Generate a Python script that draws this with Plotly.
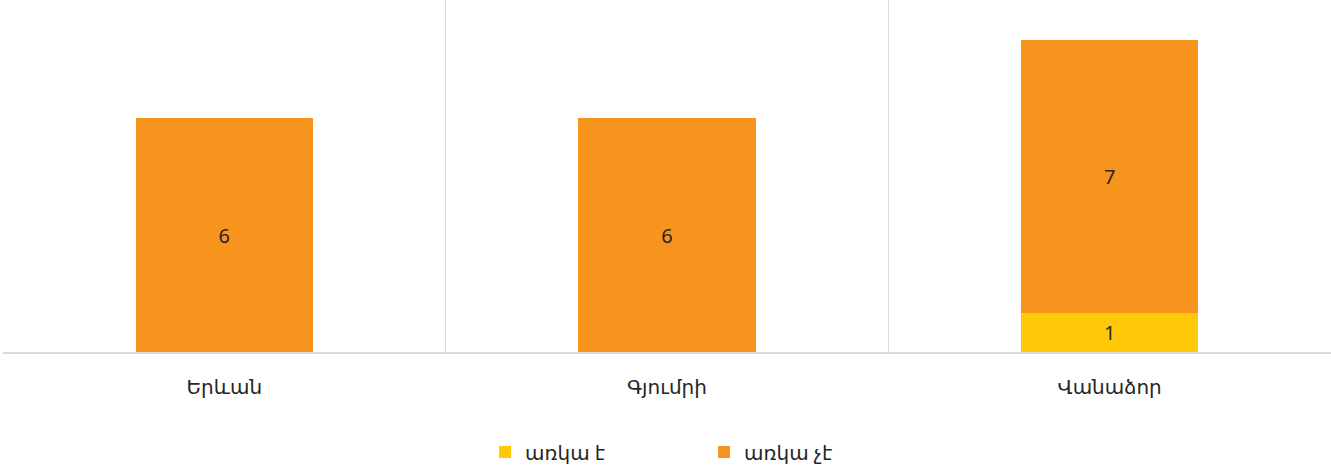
import plotly.graph_objects as go

# Cities and counts per status
cities = ["Երևան", "Գյումրի", "Վանաձոր"]
series_names = ["առկա է", "առկա չէ"]
available = [0, 0, 1]
not_available = [6, 6, 7]

colors = ["#FFC90A", "#F7941D"]
font_family = "Noto Sans, DejaVu Sans, sans-serif"

fig = go.Figure()
for name, vals, col in zip(series_names, [available, not_available], colors):
    fig.add_trace(go.Bar(
        x=cities,
        y=vals,
        name=name,
        marker=dict(color=col, line=dict(width=0)),
        text=[str(v) if v else "" for v in vals],
        textposition="inside",
        insidetextanchor="middle",
        textangle=0,
        constraintext="none",
        textfont=dict(size=20, color="#262626", family=font_family),
    ))

fig.update_layout(
    barmode="stack",
    bargap=0.6,
    width=1331,
    height=468,
    margin=dict(l=3, r=0, t=0, b=116, autoexpand=False),
    paper_bgcolor="white",
    plot_bgcolor="white",
    font=dict(family=font_family, size=20, color="#262626"),
    xaxis=dict(
        type="category",
        tickson="boundaries",
        showgrid=True,
        gridcolor="#d9d9d9",
        gridwidth=1,
        showline=True,
        linecolor="#d9d9d9",
        linewidth=2,
        ticks="",
        tickfont=dict(size=20, color="#262626"),
        ticklabelstandoff=16,
    ),
    yaxis=dict(
        range=[0, 9.03],
        showgrid=False,
        zeroline=False,
        showticklabels=False,
        showline=False,
    ),
    legend=dict(
        orientation="h",
        x=0.363,
        xanchor="left",
        y=-0.284,
        yanchor="middle",
        entrywidth=174,
        itemwidth=30,
        font=dict(size=20, color="#262626"),
        traceorder="normal",
    ),
)

fig.write_html("out.html")
